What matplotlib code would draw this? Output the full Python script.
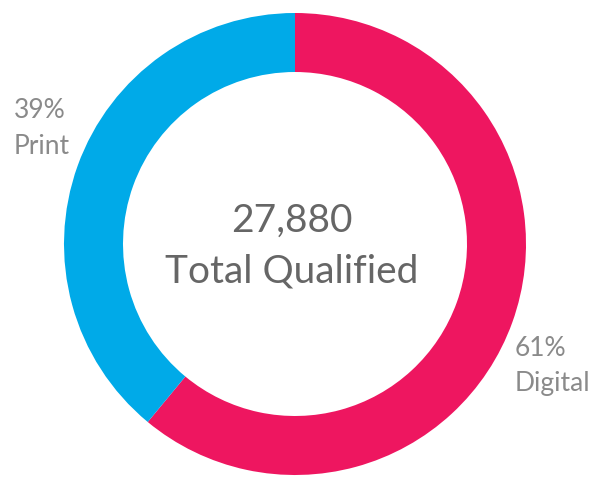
import matplotlib
matplotlib.use("Agg")
import matplotlib.pyplot as plt

categories = ["Digital", "Print"]
shares = [61, 39]
colors = ["#EE1660", "#00AAE8"]
total_value = "27,880"
total_label = "Total Qualified"

plt.rcParams['font.family'] = ['Lato', 'DejaVu Sans']

fig = plt.figure(figsize=(6.05, 4.87), dpi=100)
ax = fig.add_axes([0, 0, 1, 1])

cx, cy, r, w = 295, 244, 231, 59
ax.pie(shares, colors=colors, startangle=-90, counterclock=True,
       radius=r, center=(cx, cy), wedgeprops=dict(width=w, linewidth=0),
       frame=True)
ax.set_xlim(0, 605)
ax.set_ylim(0, 487)
ax.invert_yaxis()
ax.axis('off')

lab_color = "#8a8a8a"
kw = dict(fontsize=19, color=lab_color, ha='left', va='center')
ax.text(14, 110, f"{shares[1]}%", **kw)
ax.text(14, 147, categories[1], **kw)
ax.text(515, 348, f"{shares[0]}%", **kw)
ax.text(515, 384, categories[0], **kw)

ax.text(cx - 3, 221, total_value, fontsize=28, color="#666666", ha='center', va='center')
ax.text(cx - 3, 272, total_label, fontsize=28, color="#666666", ha='center', va='center')

fig.savefig("out.png", dpi=100)
